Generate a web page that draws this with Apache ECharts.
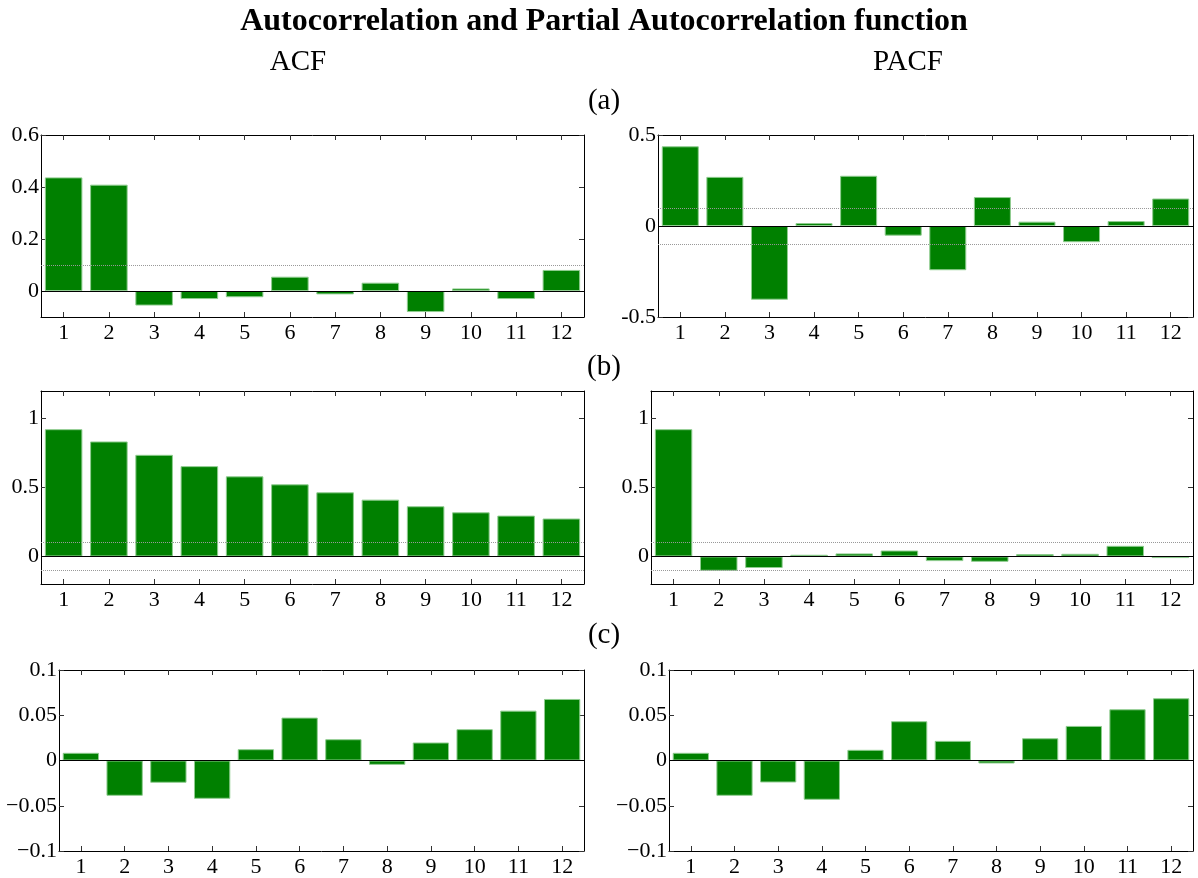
<!DOCTYPE html>
<html>
<head>
<meta charset="utf-8">
<script src="https://cdn.jsdelivr.net/npm/echarts@6/dist/echarts.min.js"></script>
<style>html,body{margin:0;padding:0;background:#fff}#c{width:1198px;height:878px}</style>
</head>
<body>
<div id="c"></div>
<script>
// ---- data ----
const lags = ['1','2','3','4','5','6','7','8','9','10','11','12'];
const acfA  = [0.437, 0.409, -0.056, -0.031, -0.024, 0.055, -0.013, 0.032, -0.081, 0.010, -0.031, 0.081];
const pacfA = [0.438, 0.270, -0.405, 0.016, 0.276, -0.053, -0.243, 0.159, 0.024, -0.089, 0.027, 0.151];
const acfB  = [0.923, 0.834, 0.737, 0.655, 0.581, 0.523, 0.465, 0.412, 0.364, 0.320, 0.296, 0.275];
const pacfB = [0.923, -0.104, -0.084, 0.012, 0.022, 0.043, -0.034, -0.039, 0.017, 0.019, 0.077, -0.012];
const acfC  = [0.0085, -0.039, -0.0246, -0.0423, 0.0125, 0.0474, 0.0235, -0.0048, 0.0199, 0.0346, 0.0551, 0.068];
const pacfC = [0.0085, -0.039, -0.0243, -0.0434, 0.0118, 0.0434, 0.0217, -0.0033, 0.0246, 0.0382, 0.0566, 0.0688];
const yTicksAacf  = [0, 0.2, 0.4, 0.6];
const yTicksApacf = [-0.5, 0, 0.5];
const yTicksB     = [0, 0.5, 1];
const yTicksC     = [-0.1, -0.05, 0, 0.05, 0.1];
const bounds = [0.1, -0.1];

const FONT = 'Liberation Serif';

const panels = [
  {data: acfA,  ticks: yTicksAacf,  min: -0.1, max: 0.6, minus: '-', left: 41,  top: 135, width: 543, height: 182},
  {data: pacfA, ticks: yTicksApacf, min: -0.5, max: 0.5, minus: '-', left: 658, top: 135, width: 535, height: 182},
  {data: acfB,  ticks: yTicksB,     min: -0.2, max: 1.2, minus: '-', left: 41,  top: 391, width: 543, height: 193},
  {data: pacfB, ticks: yTicksB,     min: -0.2, max: 1.2, minus: '-', left: 651, top: 391, width: 542, height: 193},
  {data: acfC,  ticks: yTicksC,     min: -0.1, max: 0.1, minus: '\u2212', left: 59,  top: 670, width: 525, height: 182},
  {data: pacfC, ticks: yTicksC,     min: -0.1, max: 0.1, minus: '\u2212', left: 669, top: 670, width: 524, height: 182}
];

const grid = [], xAxis = [], yAxis = [], series = [];
panels.forEach((p, i) => {
  grid.push({left: p.left, top: p.top, width: p.width, height: p.height, containLabel: false, show: false});
  xAxis.push({
    type: 'category', data: lags, gridIndex: i, position: 'bottom',
    axisLine: {show: true, onZero: false, lineStyle: {color: '#000', width: 1}},
    axisTick: {show: true, inside: true, alignWithLabel: true, length: 5, lineStyle: {color: '#333'}},
    axisLabel: {show: true, color: '#000', fontFamily: FONT, fontSize: 22, margin: 5},
    splitLine: {show: false}
  });
  xAxis.push({
    type: 'category', data: lags, gridIndex: i, position: 'top',
    axisLine: {show: true, onZero: false, lineStyle: {color: '#000', width: 1}},
    axisTick: {show: true, inside: true, alignWithLabel: true, length: 5, lineStyle: {color: '#333'}},
    axisLabel: {show: false},
    splitLine: {show: false}
  });
  const fmt = v => {
    if (Math.abs(v) < 1e-12) return '0';
    const s = String(Math.round(Math.abs(v) * 1000) / 1000);
    return v < 0 ? p.minus + s : s;
  };
  yAxis.push({
    type: 'value', gridIndex: i, position: 'left', min: p.min, max: p.max,
    axisLine: {show: true, lineStyle: {color: '#000', width: 1}},
    axisTick: {show: true, inside: true, length: 5, customValues: p.ticks, lineStyle: {color: '#333'}},
    axisLabel: {show: true, customValues: p.ticks, formatter: fmt, color: '#000', fontFamily: FONT, fontSize: 22, margin: 2, showMinLabel: true, showMaxLabel: true},
    splitLine: {show: false}
  });
  yAxis.push({
    type: 'value', gridIndex: i, position: 'right', min: p.min, max: p.max,
    axisLine: {show: true, lineStyle: {color: '#000', width: 1}},
    axisTick: {show: true, inside: true, length: 5, customValues: p.ticks, lineStyle: {color: '#333'}},
    axisLabel: {show: false},
    splitLine: {show: false}
  });
  const ml = [{yAxis: 0, lineStyle: {type: 'solid', color: '#000', width: 1.2}}];
  bounds.forEach(b => {
    if (b > p.min + 1e-9 && b < p.max - 1e-9) ml.push({yAxis: b, lineStyle: {type: 'dotted', color: '#999', width: 1}});
  });
  series.push({
    type: 'bar', xAxisIndex: 2 * i, yAxisIndex: 2 * i, data: p.data,
    barCategoryGap: '17%',
    itemStyle: {color: '#008000', borderColor: '#8fcc8f', borderWidth: 1},
    silent: true, animation: false,
    markLine: {silent: true, symbol: 'none', label: {show: false}, animation: false, data: ml, z: 5}
  });
});

const txt = (t, x, y, size, weight) => ({
  type: 'text', x: x, y: y,
  style: {text: t, fontFamily: FONT, fontSize: size, fontWeight: weight || 'normal', fill: '#000', textAlign: 'center', textVerticalAlign: 'middle'}
});

const chart = echarts.init(document.getElementById('c'), null, {renderer: 'canvas'});
chart.setOption({
  backgroundColor: '#fff',
  animation: false,
  textStyle: {fontFamily: FONT},
  grid, xAxis, yAxis, series,
  graphic: [
    txt('Autocorrelation and Partial Autocorrelation function', 604, 22, 32, 'bold'),
    txt('ACF', 298, 62, 29),
    txt('PACF', 908, 62, 29),
    txt('(a)', 604, 101, 29),
    txt('(b)', 604, 367, 29),
    txt('(c)', 604, 635, 29)
  ]
});
</script>
</body>
</html>
